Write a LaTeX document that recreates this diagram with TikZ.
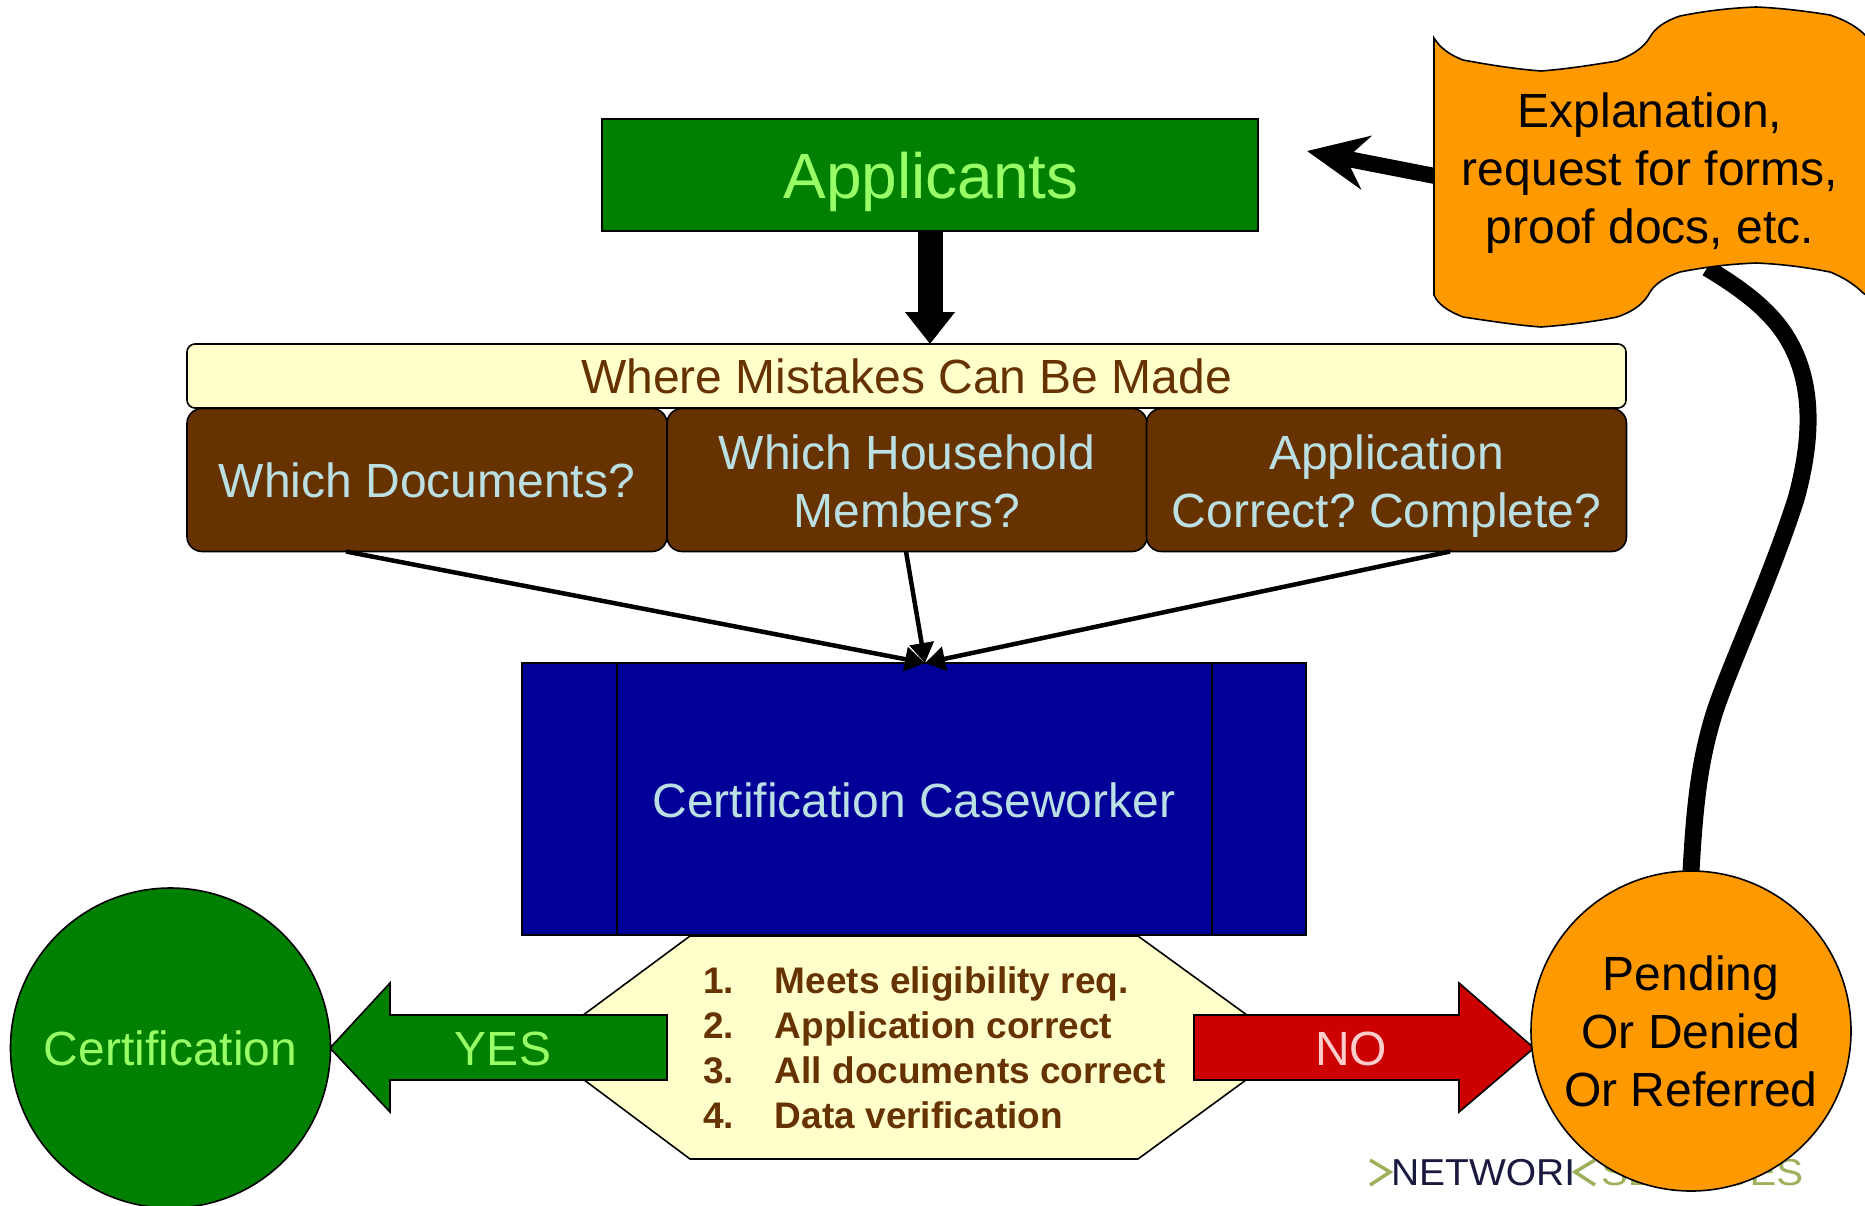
\documentclass[tikz,border=0pt]{standalone}
\usepackage{fontspec}
\setmainfont{Liberation Sans}
\usetikzlibrary{arrows.meta,calc}
\definecolor{dgreen}{HTML}{008000}
\definecolor{lgreen}{HTML}{99FF66}
\definecolor{cream}{HTML}{FFFFCC}
\definecolor{brown}{HTML}{663300}
\definecolor{ice}{HTML}{BBE0E3}
\definecolor{navy}{HTML}{000099}
\definecolor{orng}{HTML}{FF9900}
\definecolor{rd}{HTML}{CC0000}
\definecolor{pinkt}{HTML}{FFCCCC}
\definecolor{logoG}{HTML}{9DB05C}
\definecolor{logoN}{HTML}{1A1A40}
\tikzset{
  x=1pt,y=-1pt,
  every node/.style={inner sep=0pt,outer sep=0pt},
  shp/.style={draw=black,line width=1.6pt},
  big/.style={font=\frenchspacing\fontsize{48}{58}\selectfont,align=center},
  brownbox/.style={shp,fill=brown,rounded corners=15pt,minimum width=480pt,minimum height=143pt,text=ice,big},
  thin arrow/.style={line width=4.5pt,-{Triangle[length=20pt,width=24pt]}},
  circ/.style={shp,circle,minimum size=320pt,big},
  logotext/.style={anchor=base west,font=\fontsize{37.5}{40}\selectfont},
}
\begin{document}
\begin{tikzpicture}
\useasboundingbox (0,0) rectangle (1865,1205);
\fill[white] (0,0) rectangle (1865,1205);
% logo
\node[logotext,text=logoN,xscale=1.04] (logoa) at (1391,1185) {NETWORI};
\node[logotext,text=logoG,xscale=1.07] (logob) at (1601,1185) {SERVICES};
\draw[logoG,line width=3.5pt] (1370,1160) -- (1390,1172) -- (1370,1185);
\draw[logoG,line width=3.5pt] (1595,1160) -- (1575,1172) -- (1595,1185);
% hexagon
\draw[shp,fill=cream] (540,1047) -- (690,936) -- (1138,936) -- (1291,1047) -- (1138,1159) -- (690,1159) -- cycle;
\node[anchor=west,align=left,text=brown,font=\fontsize{37}{45}\selectfont\bfseries] (list) at (703,1048) {%
\makebox[72pt][l]{1.}Meets eligibility req.\\
\makebox[72pt][l]{2.}Application correct\\
\makebox[72pt][l]{3.}All documents correct\\
\makebox[72pt][l]{4.}Data verification};
% main boxes
\node[shp,fill=dgreen,minimum width=656pt,minimum height=112pt] (app) at (930,175) {};
\node[text=lgreen,font=\fontsize{64}{70}\selectfont] (applabel) at (931,182) {Applicants};
\node[shp,fill=cream,rounded corners=8pt,minimum width=1439pt,minimum height=64pt,text=brown,big] (where) at (906.5,376) {Where Mistakes Can Be Made};
\node[brownbox] (doc) at (427,480) {Which Documents?};
\node[brownbox,text depth=0pt] (mem) at (907,480) {\rule{0pt}{37pt}Which Household\\Members?};
\node[brownbox,text depth=0pt] (cor) at (1386.5,480) {\rule{0pt}{37pt}Application\\Correct? Complete?};
\node[shp,fill=navy,minimum width=784pt,minimum height=272pt,text=ice,big] (cw) at (914,799) {\rule{0pt}{37pt}Certification Caseworker};
\draw[line width=1.6pt] (617,663) -- (617,935) (1212,663) -- (1212,935);
% connectors
\draw[line width=25pt,-{Triangle[length=32pt,width=48pt]}] (app.south) -- (where.north -| app.south);
\draw[thin arrow] ($(doc.south)+(-81,0)$) -- ($(cw.north)+(11,0)$);
\draw[thin arrow] ($(mem.south)+(-1,0)$) -- ($(cw.north)+(11,0)$);
\draw[thin arrow] ($(cor.south)+(63.5,0)$) -- ($(cw.north)+(11,0)$);
% arrows yes/no
\draw[shp,fill=dgreen] (330,1048) -- (390,983) -- (390,1015) -- (667,1015) -- (667,1080) -- (390,1080) -- (390,1112) -- cycle;
\node[text=lgreen,big] (yes) at (503,1049) {YES};
\draw[shp,fill=rd] (1534,1048) -- (1459,983) -- (1459,1015) -- (1194,1015) -- (1194,1080) -- (1459,1080) -- (1459,1112) -- cycle;
\node[text=pinkt,big] (no) at (1351,1049) {NO};
% circles
\node[circ,fill=dgreen,text=lgreen] (cert) at (170.5,1048) {Certification};
\node[circ,fill=orng] (pend) at (1691,1031) {Pending\\Or Denied\\Or Referred};
% flag
\coordinate (fb) at (1707,268);
\coordinate (fl) at (1440,177);
\draw[line width=17pt] (pend.north) .. controls (1695,800) and (1700,760) .. (1714,714)
  .. controls (1730,665) and (1770,580) .. (1796,499)
  .. controls (1815,430) and (1812,375) .. (1784,333)
  .. controls (1765,305) and (1735,285) .. (fb);
\node[coordinate] (apparrow) at (1307,151) {};
\draw[line width=16pt,-{Stealth[length=60pt,width=54pt,inset=20pt]}] (fl) -- (apparrow);
\draw[shp,fill=orng] (1434,38) .. controls (1440,48) and (1450,55) .. (1463,60)
  .. controls (1490,65) and (1515,69) .. (1541,71)
  .. controls (1567,69) and (1592,65) .. (1617,61)
  .. controls (1635,54) and (1645,46) .. (1650,37)
  .. controls (1655,28) and (1665,21) .. (1680,16)
  .. controls (1705,11) and (1730,8) .. (1756,7)
  .. controls (1780,8) and (1805,11) .. (1830,15)
  .. controls (1845,20) and (1855,26) .. (1863,33)
  -- (1890,60) -- (1890,310) -- (1863,293)
  .. controls (1855,285) and (1845,278) .. (1830,272)
  .. controls (1805,267) and (1780,264) .. (1756,263)
  .. controls (1730,264) and (1705,267) .. (1680,272)
  .. controls (1665,277) and (1655,284) .. (1650,292)
  .. controls (1645,302) and (1635,311) .. (1617,317)
  .. controls (1592,322) and (1567,325) .. (1541,327)
  .. controls (1515,325) and (1490,321) .. (1463,317)
  .. controls (1450,312) and (1438,305) .. (1434,295) -- cycle;
\node[big,text=black] (flagt) at (1650,173) {Explanation,\\request for forms,\\proof docs, etc.};
\end{tikzpicture}
\end{document}
